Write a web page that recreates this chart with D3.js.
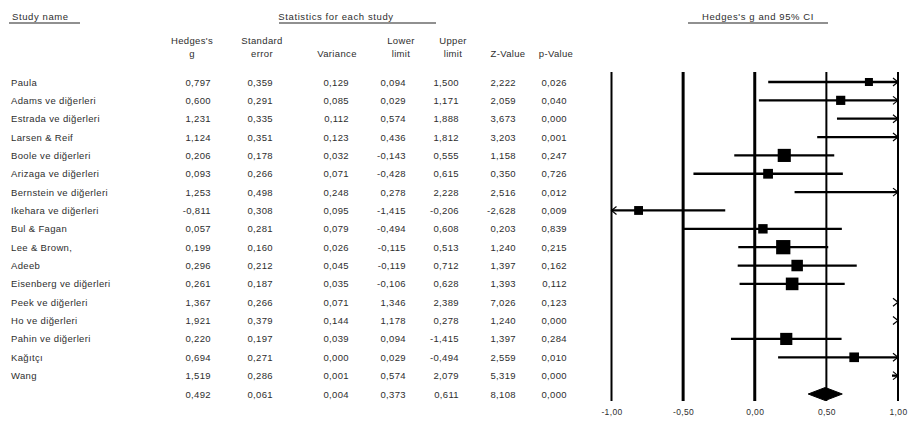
<!DOCTYPE html>
<html>
<head>
<meta charset="utf-8">
<script src="https://cdn.jsdelivr.net/npm/d3@7"></script>
<style>
  html, body { margin: 0; padding: 0; background: #fff; }
  svg { display: block; }
  text { font-family: "Liberation Sans", Arial, sans-serif; fill: #2e2e2e; letter-spacing: 0.35px; }
</style>
</head>
<body>
<svg id="chart" width="909" height="428"></svg>
<script>
// Studies in the meta-analysis
const studies = [
  "Paula", "Adams ve diğerleri", "Estrada ve diğerleri", "Larsen & Reif",
  "Boole ve diğerleri", "Arizaga ve diğerleri", "Bernstein ve diğerleri",
  "Ikehara ve diğerleri", "Bul & Fagan", "Lee & Brown,", "Adeeb",
  "Eisenberg ve diğerleri", "Peek ve diğerleri", "Ho ve diğerleri",
  "Pahin ve diğerleri", "Kağıtçı", "Wang"
];

// Per-study statistics (last entry = pooled estimate)
const hedgesG  = [0.797, 0.600, 1.231, 1.124, 0.206, 0.093, 1.253, -0.811, 0.057, 0.199, 0.296, 0.261, 1.367, 1.921, 0.220, 0.694, 1.519, 0.492];
const stdError = [0.359, 0.291, 0.335, 0.351, 0.178, 0.266, 0.498, 0.308, 0.281, 0.160, 0.212, 0.187, 0.266, 0.379, 0.197, 0.271, 0.286, 0.061];
const variance = [0.129, 0.085, 0.112, 0.123, 0.032, 0.071, 0.248, 0.095, 0.079, 0.026, 0.045, 0.035, 0.071, 0.144, 0.039, 0.000, 0.001, 0.004];
const lowerLim = [0.094, 0.029, 0.574, 0.436, -0.143, -0.428, 0.278, -1.415, -0.494, -0.115, -0.119, -0.106, 1.346, 1.178, 0.094, 0.029, 0.574, 0.373];
const upperLim = [1.500, 1.171, 1.888, 1.812, 0.555, 0.615, 2.228, -0.206, 0.608, 0.513, 0.712, 0.628, 2.389, 0.278, -1.415, -0.494, 2.079, 0.611];
const zValue   = [2.222, 2.059, 3.673, 3.203, 1.158, 0.350, 2.516, -2.628, 0.203, 1.240, 1.397, 1.393, 7.026, 1.240, 1.397, 2.559, 5.319, 8.108];
const pValue   = [0.026, 0.040, 0.000, 0.001, 0.247, 0.726, 0.012, 0.009, 0.839, 0.215, 0.162, 0.112, 0.123, 0.000, 0.284, 0.010, 0.000, 0.000];

// Confidence intervals drawn in the forest plot (one per study)
const ciLow  = [0.094, 0.029, 0.574, 0.436, -0.143, -0.428, 0.278, -1.415, -0.494, -0.115, -0.119, -0.106, 1.346, 1.178, -0.166, 0.163, 0.958];
const ciHigh = [1.500, 1.171, 1.888, 1.812, 0.555, 0.615, 2.228, -0.206, 0.608, 0.513, 0.712, 0.628, 2.389, 2.664, 0.606, 1.225, 2.079];

// Axis ticks of the forest plot
const tickValues = [-1, -0.5, 0, 0.5, 1];
const tickLabels = ["-1,00", "-0,50", "0,00", "0,50", "1,00"];

const svg = d3.select("#chart");
const fmt = v => d3.format(".3f")(v).replace(".", ",").replace("−", "-");

const nRows = hedgesG.length;              // studies + pooled row
const y = d3.scaleLinear().domain([0, nRows - 1]).range([82, 394]);
const x = d3.scaleLinear().domain([-1, 1]).range([611.5, 898]);

const FS = 9.5;

// ---- section headers (underlined) ----
function header(txt, cx, anchor, x1, x2) {
  svg.append("text").attr("x", cx).attr("y", 20).attr("text-anchor", anchor)
    .attr("font-size", FS).style("letter-spacing", "0.6px").text(txt);
  svg.append("line").attr("x1", x1).attr("x2", x2).attr("y1", 23).attr("y2", 23)
    .attr("stroke", "#222").attr("stroke-width", 1.2);
}
header("Study name", 12, "start", 9, 80);
header("Statistics for each study", 336, "middle", 279, 436);
header("Hedges's g and 95% CI", 758, "middle", 688, 828);

// ---- column headers ----
const cols = [
  { key: hedgesG,  right: 211, cx: 192, h: ["Hedges's", "g"] },
  { key: stdError, right: 273, cx: 262, h: ["Standard", "error"] },
  { key: variance, right: 349, cx: 337, h: ["", "Variance"] },
  { key: lowerLim, right: 406, cx: 401, h: ["Lower", "limit"] },
  { key: upperLim, right: 459, cx: 453, h: ["Upper", "limit"] },
  { key: zValue,   right: 516, cx: 508, h: ["", "Z-Value"] },
  { key: pValue,   right: 567, cx: 556, h: ["", "p-Value"] }
];

cols.forEach(c => {
  c.h.forEach((t, k) => {
    if (!t) return;
    svg.append("text").attr("x", c.cx).attr("y", 44 + k * 13)
      .attr("text-anchor", "middle").attr("font-size", FS).text(t);
  });
  svg.append("g").selectAll("text").data(c.key).join("text")
    .attr("x", c.right).attr("y", (d, i) => y(i) + 3.5)
    .attr("text-anchor", "end").attr("font-size", FS)
    .text(d => fmt(d));
});

// study names
svg.append("g").selectAll("text").data(studies).join("text")
  .attr("x", 11).attr("y", (d, i) => y(i) + 3.5)
  .attr("font-size", FS).text(d => d);

// ---- forest plot ----
const plot = svg.append("g");
const lineTop = 72, lineBottom = 401;
const vWidth = [2, 3, 3, 2, 2];
plot.selectAll("line.v").data(tickValues).join("line")
  .attr("class", "v")
  .attr("x1", d => x(d)).attr("x2", d => x(d))
  .attr("y1", lineTop).attr("y2", lineBottom)
  .attr("stroke", "#000").attr("stroke-width", (d, i) => vWidth[i]);

// axis tick labels
const axis = d3.axisBottom(x).tickValues(tickValues)
  .tickFormat((d, i) => tickLabels[i]).tickSize(0).tickPadding(0);
const axG = svg.append("g").attr("transform", `translate(0,${409})`).call(axis);
axG.select(".domain").remove();
axG.selectAll("text").attr("font-size", 8.5).attr("font-family", "Liberation Sans, Arial, sans-serif")
  .attr("fill", "#2e2e2e");

const [xmin, xmax] = x.domain();
const studyIdx = d3.range(studies.length);

// CI lines, clipped to the plotted range
plot.selectAll("line.ci").data(studyIdx).join("line")
  .attr("class", "ci")
  .filter(i => ciLow[i] < xmax && ciHigh[i] > xmin)
  .attr("x1", i => x(Math.max(ciLow[i], xmin)))
  .attr("x2", i => x(Math.min(ciHigh[i], xmax)))
  .attr("y1", i => y(i)).attr("y2", i => y(i))
  .attr("stroke", "#000").attr("stroke-width", 2.3);

// arrow heads where an interval runs past the plotted range
const ah = 5;
studyIdx.forEach(i => {
  if (ciHigh[i] > xmax) {
    const px = x(xmax), py = y(i);
    plot.append("path")
      .attr("d", `M${px - ah},${py - ah * 0.8}L${px},${py}L${px - ah},${py + ah * 0.8}`)
      .attr("fill", "none").attr("stroke", "#000").attr("stroke-width", 1.2);
  }
  if (ciLow[i] < xmin) {
    const px = x(xmin), py = y(i);
    plot.append("path")
      .attr("d", `M${px + ah},${py - ah * 0.8}L${px},${py}L${px + ah},${py + ah * 0.8}`)
      .attr("fill", "none").attr("stroke", "#000").attr("stroke-width", 1.2);
  }
});

// study markers: squares sized by precision (1 / SE)
const side = i => 3 + 1.8 / stdError[i];
plot.selectAll("rect.pt").data(studyIdx.filter(i => hedgesG[i] >= xmin && hedgesG[i] <= xmax))
  .join("rect").attr("class", "pt")
  .attr("x", i => x(hedgesG[i]) - side(i) / 2)
  .attr("y", i => y(i) - side(i) / 2)
  .attr("width", side).attr("height", side)
  .attr("fill", "#000");

// pooled estimate diamond
const s = nRows - 1;
const dh = 6.5;
plot.append("path")
  .attr("d", `M${x(lowerLim[s])},${y(s)}L${x(hedgesG[s])},${y(s) - dh}L${x(upperLim[s])},${y(s)}L${x(hedgesG[s])},${y(s) + dh}Z`)
  .attr("fill", "#000").attr("stroke", "#000").attr("stroke-width", 1);
</script>
</body>
</html>
